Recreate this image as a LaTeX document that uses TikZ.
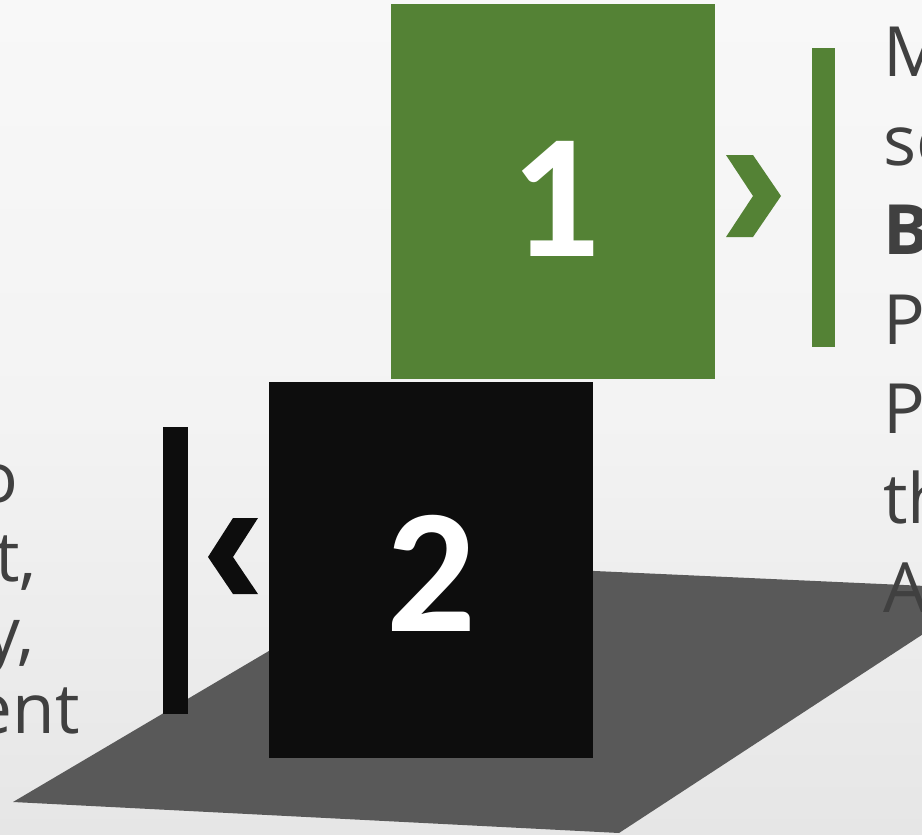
\documentclass[tikz,border=0pt]{standalone}
\usepackage{fontspec}
\setmainfont{Carlito}
\newfontfamily\bodyfont{Open Sans}
\definecolor{grn}{HTML}{548235}
\definecolor{blk}{HTML}{0D0D0D}
\definecolor{floorc}{HTML}{595959}
\definecolor{txt}{HTML}{404040}
\definecolor{bgbot}{HTML}{D9D9D9}
\definecolor{bgmid}{HTML}{F3F3F3}
\definecolor{bgtop}{HTML}{FDFDFD}
\pgfdeclareverticalshading{bgshade}{100bp}{color(0bp)=(bgbot); color(50bp)=(bgmid); color(100bp)=(bgtop)}
\tikzset{
  numbox/.style={rectangle, inner sep=0pt, minimum width=243pt, text=white,
    font=\fontsize{133}{133}\selectfont\bfseries},
  bodytext/.style={inner sep=0pt, text=txt, font=\bodyfont\fontsize{52}{64}\selectfont},
}
\begin{document}
\begin{tikzpicture}[x=0.75pt,y=-0.75pt]
\useasboundingbox (0,0) rectangle (922,835);
\clip (0,0) rectangle (922,835);
\shade[shading=bgshade] (0,0) rectangle (922,835);
% floor
\fill[floorc] (13,802) -- (619,833) -- (992,589) -- (418,563) -- cycle;
% boxes
\node[numbox, fill=grn, minimum height=281.25pt] (one) at (553,191.5) {};
\node[numbox, fill=blk, minimum height=282pt] (two) at (431,570) {};
\node[numbox, anchor=base] (onet) at (555,256) {1};
\node[numbox, anchor=base] (twot) at (431,631) {2};
% bars
\fill[grn] (812,48) rectangle (835,347);
\fill[blk] (163,427) rectangle (188,714);
% chevrons
\fill[grn] (726,155) -- (753,155) -- (781,196) -- (753,237) -- (726,237) -- (753,196) -- cycle;
\fill[blk] (258,518) -- (233,518) -- (208,557) -- (233,594) -- (258,594) -- (233,557) -- cycle;
% right text
\node[bodytext, anchor=base west] (r1) at (883,76) {M};
\node[bodytext, anchor=base west] (r2) at (883,165) {sc};
\node[bodytext, anchor=base west] (r3) at (883,254) {\bfseries B};
\node[bodytext, anchor=base west] (r4) at (883,344) {P};
\node[bodytext, anchor=base west] (r5) at (883,433) {P};
\node[bodytext, anchor=base west] (r6) at (883,523) {th};
\node[bodytext, anchor=base west] (r7) at (883,612) {A};
% left text
\node[bodytext, anchor=base east] (l1) at (19,502) {o};
\node[bodytext, anchor=base east] (l2) at (37,581) {t,};
\node[bodytext, anchor=base east] (l3) at (35,657) {y,};
\node[bodytext, anchor=base east] (l4) at (80,733) {ent};
\end{tikzpicture}
\end{document}
